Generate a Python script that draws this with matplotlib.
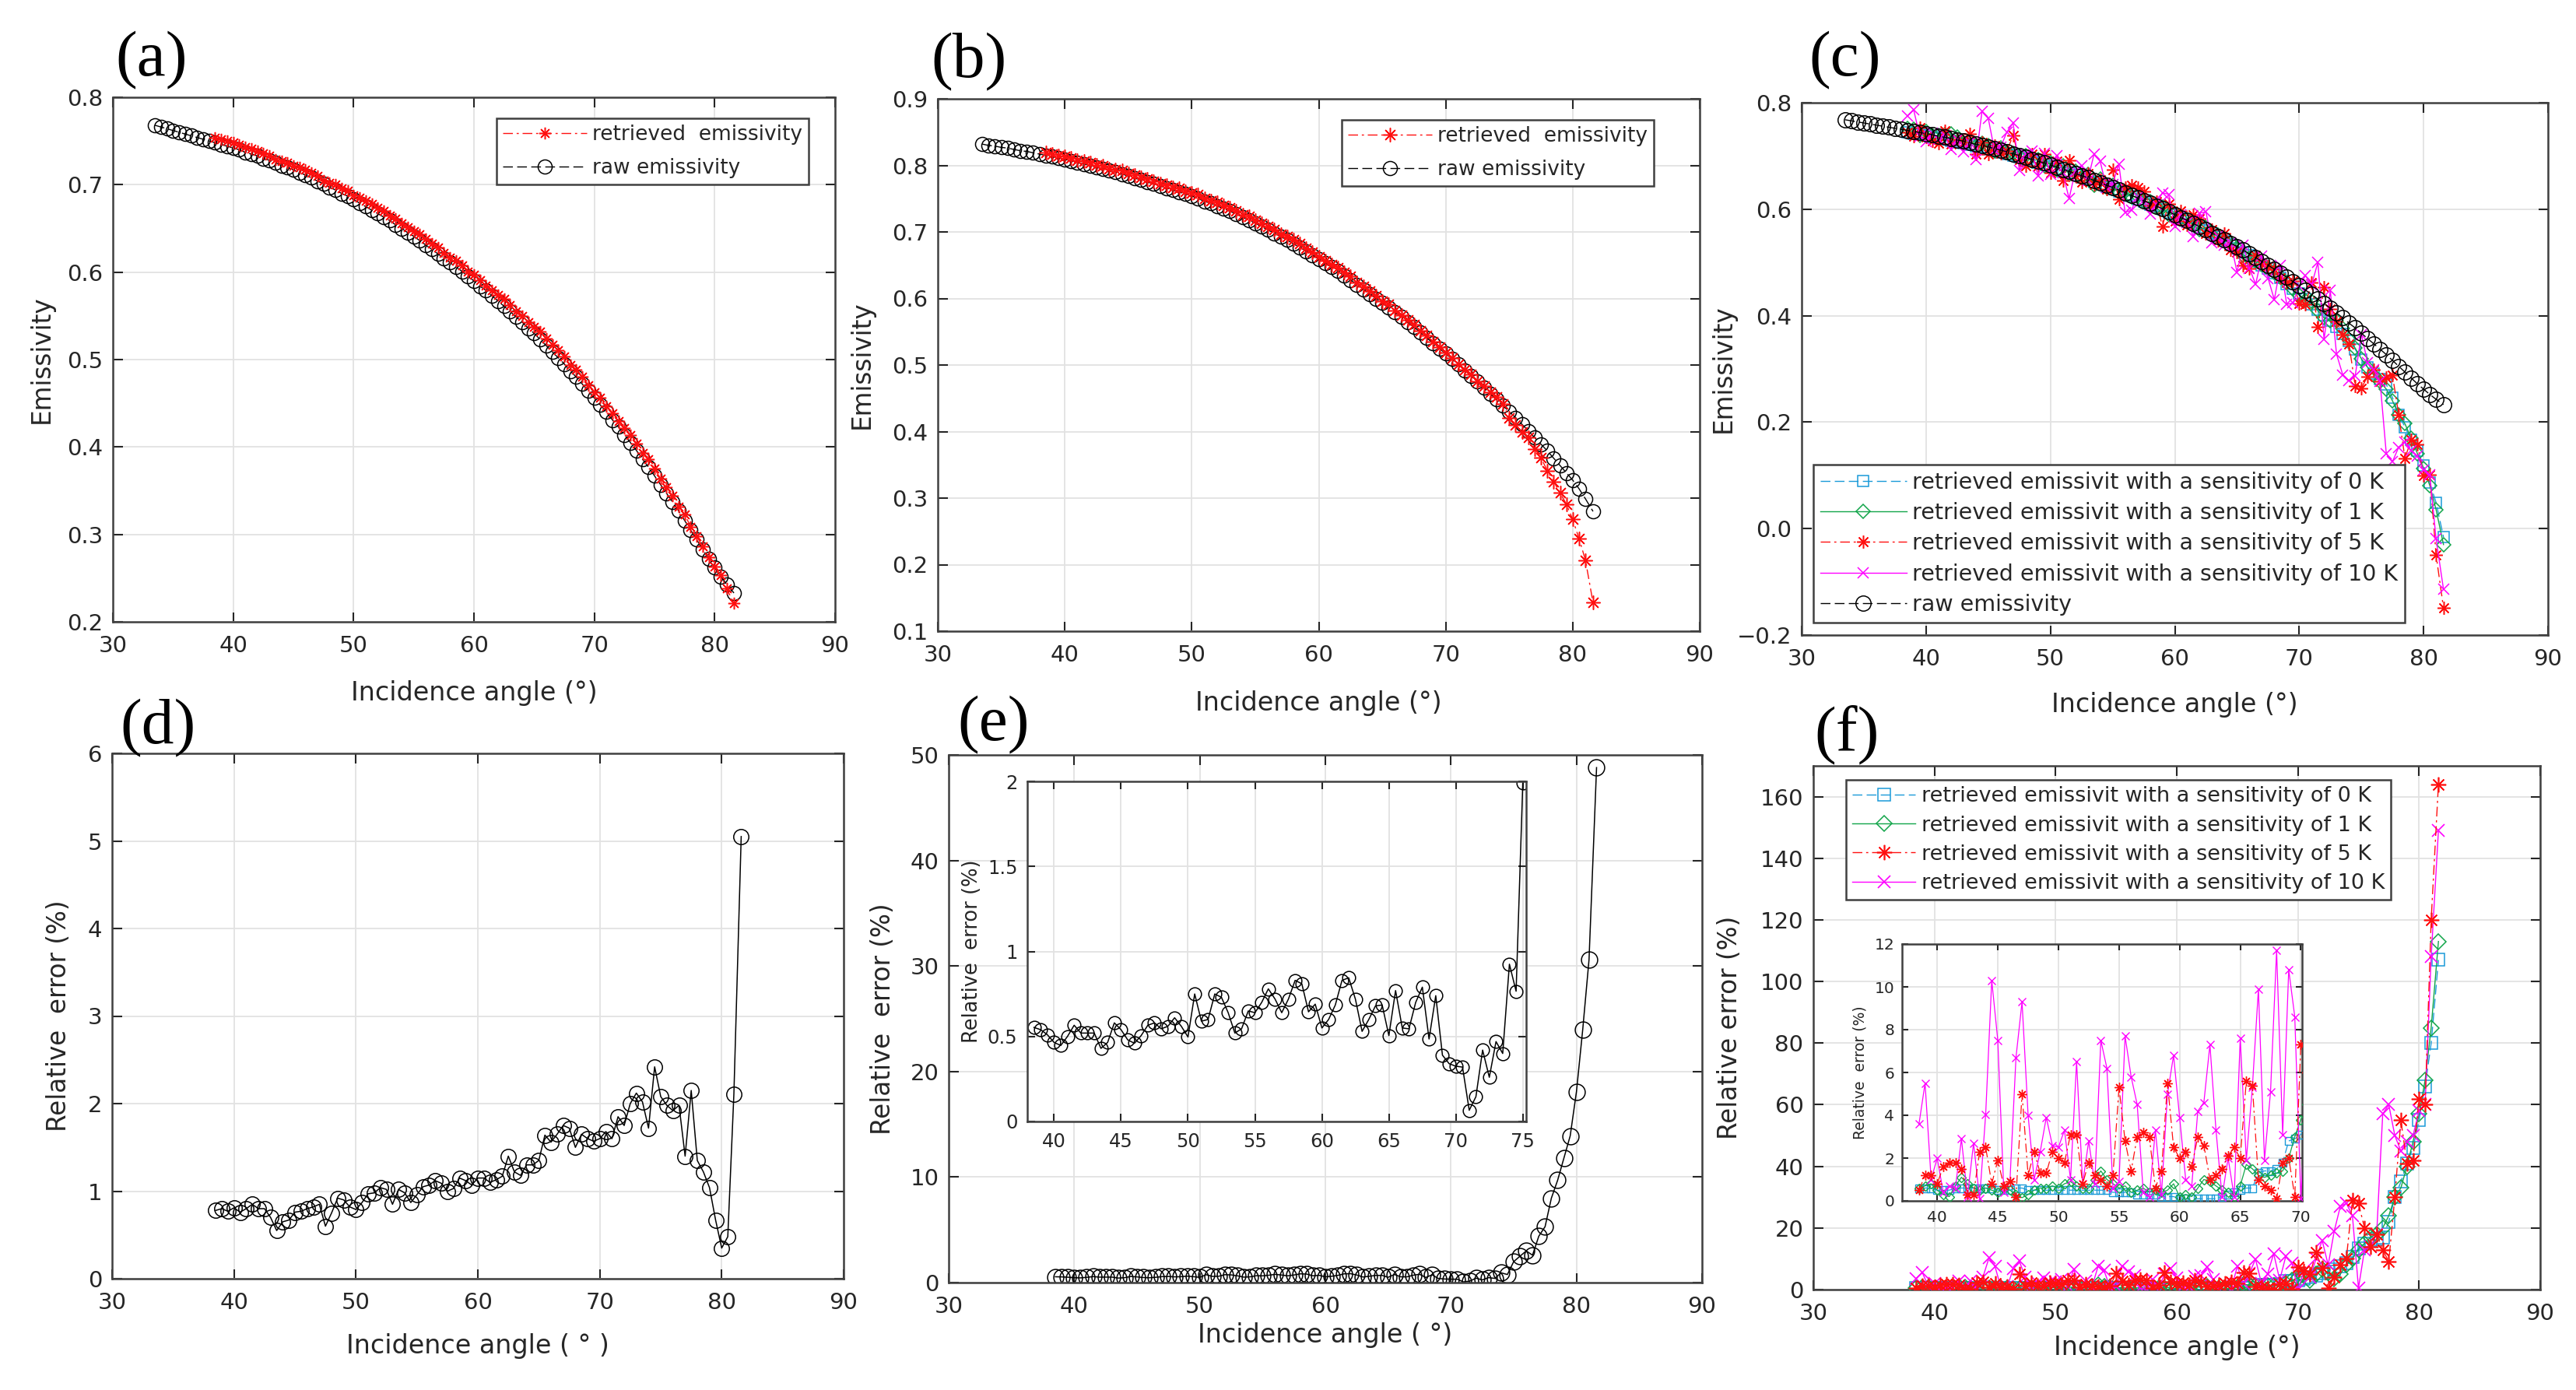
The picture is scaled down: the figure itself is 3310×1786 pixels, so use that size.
import matplotlib
matplotlib.use("Agg")
import matplotlib.pyplot as plt

plt.rcParams['font.family'] = ['DejaVu Sans']

# ---------------------- DATA ------------------------
# incidence angles of the raw emissivity (a, b, c); retrieved series start at 38.5
angle_raw = [33.5, 34.0, 34.5, 35.0, 35.5, 36.0, 36.5, 37.0, 37.5, 38.0,
             38.5, 39.0, 39.5, 40.0, 40.5, 41.0, 41.5, 42.0,
             42.5, 43.0, 43.5, 44.0, 44.5, 45.0, 45.5, 46.0, 46.5, 47.0,
             47.5, 48.0, 48.5, 49.0, 49.5, 50.0, 50.5, 51.0, 51.5, 52.0,
             52.5, 53.0, 53.5, 54.0, 54.5, 55.0, 55.5, 56.0, 56.5, 57.0,
             57.5, 58.0, 58.5, 59.0, 59.5, 60.0, 60.5, 61.0, 61.5, 62.0,
             62.5, 63.0, 63.5, 64.0, 64.5, 65.0, 65.5, 66.0, 66.5, 67.0,
             67.5, 68.0, 68.5, 69.0, 69.5, 70.0, 70.5, 71.0, 71.5, 72.0,
             72.5, 73.0, 73.5, 74.0, 74.5, 75.0, 75.5, 76.0, 76.5, 77.0,
             77.5, 78.0, 78.5, 79.0, 79.5, 80.0, 80.5, 81.0, 81.6]
angle_ret = angle_raw[10:]

# raw emissivity, case (a) -- same raw curve is used in (c)
raw_a = [0.768, 0.766, 0.764, 0.762, 0.760, 0.758, 0.756, 0.754, 0.752, 0.750,
         0.748, 0.746, 0.744, 0.742, 0.740, 0.737, 0.735, 0.733,
         0.730, 0.728, 0.725, 0.722, 0.720, 0.717, 0.714, 0.711, 0.708, 0.704,
         0.701, 0.697, 0.694, 0.690, 0.687, 0.683, 0.679, 0.675, 0.671, 0.667,
         0.663, 0.659, 0.654, 0.650, 0.645, 0.641, 0.636, 0.631, 0.626, 0.621,
         0.616, 0.611, 0.606, 0.601, 0.595, 0.590, 0.584, 0.579, 0.573, 0.567,
         0.561, 0.555, 0.549, 0.543, 0.536, 0.530, 0.523, 0.516, 0.509, 0.502,
         0.495, 0.487, 0.480, 0.472, 0.464, 0.456, 0.448, 0.440, 0.431, 0.423,
         0.414, 0.405, 0.396, 0.386, 0.377, 0.367, 0.357, 0.347, 0.337, 0.327,
         0.316, 0.305, 0.294, 0.283, 0.272, 0.262, 0.252, 0.243, 0.233]

ret_a = [0.754, 0.752, 0.750, 0.748, 0.746, 0.743, 0.741, 0.739,
         0.736, 0.733, 0.729, 0.727, 0.725, 0.722, 0.720, 0.717, 0.714, 0.710,
         0.705, 0.702, 0.700, 0.696, 0.693, 0.688, 0.685, 0.682, 0.678, 0.674,
         0.670, 0.665, 0.661, 0.656, 0.651, 0.647, 0.643, 0.638, 0.633, 0.628,
         0.622, 0.617, 0.613, 0.608, 0.601, 0.597, 0.591, 0.585, 0.579, 0.574,
         0.569, 0.562, 0.555, 0.550, 0.543, 0.537, 0.532, 0.524, 0.517, 0.511,
         0.504, 0.494, 0.488, 0.480, 0.471, 0.463, 0.456, 0.447, 0.439, 0.430,
         0.422, 0.414, 0.404, 0.393, 0.386, 0.375, 0.364, 0.354, 0.344, 0.332,
         0.323, 0.309, 0.298, 0.286, 0.274, 0.263, 0.253, 0.238, 0.221]

raw_b = [0.832, 0.830, 0.829, 0.827, 0.826, 0.824, 0.822, 0.821, 0.819, 0.817,
         0.815, 0.813, 0.811, 0.809, 0.807, 0.804, 0.802, 0.800,
         0.797, 0.795, 0.792, 0.790, 0.787, 0.784, 0.781, 0.778, 0.775, 0.772,
         0.769, 0.766, 0.763, 0.760, 0.757, 0.754, 0.750, 0.746, 0.743, 0.739,
         0.735, 0.731, 0.727, 0.722, 0.718, 0.713, 0.708, 0.703, 0.698, 0.693,
         0.688, 0.682, 0.677, 0.671, 0.665, 0.659, 0.653, 0.647, 0.641, 0.634,
         0.628, 0.621, 0.614, 0.607, 0.600, 0.593, 0.586, 0.579, 0.572, 0.564,
         0.557, 0.549, 0.541, 0.533, 0.525, 0.517, 0.509, 0.501, 0.492, 0.484,
         0.475, 0.466, 0.457, 0.448, 0.439, 0.430, 0.421, 0.411, 0.401, 0.391,
         0.381, 0.371, 0.360, 0.349, 0.338, 0.327, 0.314, 0.299, 0.280]

ret_b = [0.819, 0.817, 0.815, 0.813, 0.811, 0.808, 0.806, 0.804,
         0.801, 0.799, 0.795, 0.794, 0.792, 0.788, 0.785, 0.782, 0.779, 0.776,
         0.773, 0.770, 0.767, 0.765, 0.761, 0.758, 0.756, 0.750, 0.747, 0.745,
         0.740, 0.736, 0.731, 0.726, 0.723, 0.718, 0.713, 0.708, 0.703, 0.697,
         0.693, 0.688, 0.682, 0.675, 0.670, 0.663, 0.657, 0.651, 0.646, 0.639,
         0.633, 0.624, 0.618, 0.611, 0.604, 0.596, 0.591, 0.582, 0.575, 0.568,
         0.561, 0.552, 0.545, 0.535, 0.527, 0.519, 0.511, 0.501, 0.493, 0.486,
         0.476, 0.468, 0.459, 0.452, 0.442, 0.421, 0.410, 0.399, 0.391, 0.374,
         0.361, 0.341, 0.325, 0.308, 0.291, 0.268, 0.239, 0.207, 0.143]

# (c) retrieved emissivity for sensor sensitivities 0, 1, 5, 10 K
ret_0k = [0.744, 0.742, 0.740, 0.738, 0.736, 0.733, 0.731, 0.729,
          0.726, 0.724, 0.721, 0.718, 0.716, 0.713, 0.710, 0.707, 0.704, 0.700,
          0.697, 0.694, 0.690, 0.687, 0.683, 0.680, 0.676, 0.672, 0.668, 0.664,
          0.660, 0.656, 0.651, 0.647, 0.642, 0.638, 0.633, 0.628, 0.624, 0.619,
          0.614, 0.609, 0.605, 0.600, 0.594, 0.589, 0.583, 0.578, 0.572, 0.566,
          0.560, 0.554, 0.548, 0.541, 0.534, 0.527, 0.520, 0.513, 0.502, 0.495,
          0.488, 0.480, 0.471, 0.459, 0.451, 0.442, 0.432, 0.422, 0.411, 0.401,
          0.390, 0.379, 0.366, 0.353, 0.337, 0.317, 0.303, 0.291, 0.281, 0.271,
          0.246, 0.214, 0.191, 0.167, 0.147, 0.118, 0.086, 0.049, -0.016]

ret_1k = [0.752, 0.751, 0.738, 0.746, 0.738, 0.738, 0.740, 0.741,
          0.736, 0.724, 0.729, 0.718, 0.724, 0.720, 0.710, 0.715, 0.706, 0.705,
          0.699, 0.700, 0.690, 0.694, 0.682, 0.687, 0.674, 0.681, 0.666, 0.671,
          0.659, 0.666, 0.645, 0.657, 0.640, 0.645, 0.632, 0.634, 0.623, 0.625,
          0.614, 0.614, 0.604, 0.604, 0.590, 0.591, 0.582, 0.580, 0.570, 0.561,
          0.566, 0.551, 0.552, 0.541, 0.537, 0.526, 0.514, 0.508, 0.503, 0.496,
          0.489, 0.481, 0.473, 0.463, 0.450, 0.439, 0.428, 0.427, 0.409, 0.396,
          0.391, 0.391, 0.376, 0.355, 0.339, 0.319, 0.303, 0.288, 0.276, 0.262,
          0.240, 0.214, 0.197, 0.170, 0.141, 0.113, 0.081, 0.036, -0.030]

ret_5k = [0.744, 0.737, 0.753, 0.736, 0.728, 0.724, 0.748, 0.722,
          0.732, 0.726, 0.742, 0.704, 0.726, 0.703, 0.719, 0.705, 0.709, 0.739,
          0.693, 0.681, 0.703, 0.681, 0.703, 0.669, 0.691, 0.654, 0.692, 0.662,
          0.651, 0.667, 0.647, 0.655, 0.637, 0.675, 0.618, 0.640, 0.645, 0.641,
          0.634, 0.607, 0.614, 0.568, 0.610, 0.578, 0.597, 0.570, 0.590, 0.582,
          0.555, 0.562, 0.541, 0.554, 0.523, 0.519, 0.494, 0.488, 0.514, 0.498,
          0.493, 0.487, 0.471, 0.463, 0.465, 0.423, 0.421, 0.462, 0.379, 0.453,
          0.412, 0.389, 0.364, 0.347, 0.268, 0.264, 0.286, 0.298, 0.276, 0.284,
          0.288, 0.214, 0.132, 0.167, 0.158, 0.100, 0.101, -0.049, -0.149]

ret_10k = [0.775, 0.787, 0.737, 0.727, 0.743, 0.732, 0.739, 0.712,
           0.731, 0.708, 0.726, 0.693, 0.784, 0.771, 0.711, 0.717, 0.745, 0.762,
           0.673, 0.704, 0.710, 0.663, 0.705, 0.666, 0.701, 0.668, 0.620, 0.672,
           0.682, 0.654, 0.703, 0.690, 0.641, 0.647, 0.685, 0.594, 0.598, 0.623,
           0.617, 0.591, 0.608, 0.631, 0.628, 0.567, 0.590, 0.575, 0.549, 0.593,
           0.595, 0.537, 0.550, 0.532, 0.537, 0.482, 0.533, 0.489, 0.459, 0.512,
           0.470, 0.430, 0.495, 0.421, 0.424, 0.456, 0.475, 0.458, 0.500, 0.355,
           0.447, 0.328, 0.289, 0.278, 0.287, 0.365, 0.311, 0.298, 0.276, 0.141,
           0.126, 0.153, 0.162, 0.147, 0.136, 0.110, 0.101, -0.019, -0.114]

# (d) relative error of (a), %
err_d = [0.78, 0.80, 0.77, 0.81, 0.76, 0.80, 0.85, 0.80,
         0.80, 0.70, 0.55, 0.65, 0.67, 0.76, 0.77, 0.80, 0.82, 0.85,
         0.60, 0.75, 0.92, 0.90, 0.82, 0.79, 0.87, 0.97, 0.98, 1.04,
         1.02, 0.85, 1.02, 0.98, 0.87, 0.96, 1.05, 1.07, 1.12, 1.09,
         1.00, 1.03, 1.15, 1.12, 1.07, 1.15, 1.15, 1.10, 1.13, 1.17,
         1.40, 1.22, 1.18, 1.30, 1.30, 1.35, 1.64, 1.56, 1.65, 1.75,
         1.72, 1.50, 1.65, 1.60, 1.57, 1.60, 1.68, 1.60, 1.85, 1.75,
         2.00, 2.12, 2.02, 1.72, 2.42, 2.08, 1.98, 1.92, 1.98, 1.40,
         2.15, 1.35, 1.22, 1.04, 0.67, 0.35, 0.48, 2.11, 5.05]

# (e) relative error of (b), %
err_e = [0.553, 0.54, 0.51, 0.465, 0.447, 0.50, 0.566, 0.52,
         0.52, 0.52, 0.43, 0.465, 0.58, 0.54, 0.48, 0.46, 0.505, 0.566,
         0.58, 0.545, 0.56, 0.61, 0.56, 0.497, 0.75, 0.59, 0.60, 0.75,
         0.73, 0.64, 0.52, 0.545, 0.65, 0.64, 0.70, 0.78, 0.72, 0.64,
         0.72, 0.83, 0.81, 0.645, 0.69, 0.55, 0.60, 0.685, 0.83, 0.845,
         0.72, 0.53, 0.60, 0.68, 0.685, 0.505, 0.77, 0.55, 0.545, 0.70,
         0.79, 0.485, 0.74, 0.39, 0.34, 0.325, 0.32, 0.066, 0.146, 0.42,
         0.26, 0.47, 0.40, 0.925, 0.766, 1.99, 2.5, 3.0, 2.6, 4.4,
         5.3, 8.0, 9.7, 11.8, 13.9, 18.1, 24.0, 30.6, 48.8]

# (f) relative error of (c), %
err_0k = [0.6, 0.6, 0.6, 0.5, 0.5, 0.5, 0.6, 0.6,
          0.6, 0.6, 0.6, 0.6, 0.6, 0.5, 0.5, 0.5, 0.6, 0.6,
          0.5, 0.5, 0.5, 0.5, 0.5, 0.5, 0.5, 0.5, 0.5, 0.5,
          0.5, 0.5, 0.5, 0.5, 0.4, 0.4, 0.4, 0.4, 0.3, 0.3,
          0.3, 0.3, 0.2, 0.2, 0.2, 0.1, 0.1, 0.1, 0.1, 0.1,
          0.1, 0.1, 0.2, 0.3, 0.4, 0.5, 0.6, 0.6, 1.3, 1.4,
          1.4, 1.5, 1.8, 2.8, 2.9, 3.1, 3.5, 4.0, 4.6, 5.2,
          5.8, 6.5, 7.5, 8.5, 10.5, 13.5, 15.0, 16.0, 16.5, 17.0,
          22.0, 30.0, 35.0, 41.0, 46.0, 55.0, 66.0, 80.0, 107.0]

err_1k = [0.6, 0.7, 0.8, 0.5, 0.3, 0.2, 0.7, 1.1,
          0.8, 0.6, 0.5, 0.6, 0.5, 0.4, 0.6, 0.5, 0.3, 0.15,
          0.3, 0.5, 0.6, 0.6, 0.7, 0.6, 0.8, 0.9, 0.7, 0.6,
          0.6, 1.0, 1.4, 1.0, 0.8, 0.6, 0.7, 0.4, 0.5, 0.6,
          0.4, 0.5, 0.4, 0.5, 0.8, 0.2, 0.3, 0.2, 0.6, 1.0,
          0.9, 0.7, 0.5, 0.4, 0.2, 0.7, 1.7, 1.5, 1.2, 1.1,
          1.2, 1.3, 1.4, 2.0, 3.0, 3.8, 4.5, 3.0, 5.0, 6.5,
          5.5, 3.5, 5.0, 8.0, 10.0, 13.0, 15.0, 17.0, 18.0, 20.0,
          24.0, 30.0, 33.0, 40.0, 48.0, 57.0, 68.0, 85.0, 113.0]

err_5k = [0.5, 1.2, 1.2, 0.8, 1.6, 1.8, 1.8, 1.5,
          0.3, 0.3, 2.3, 2.5, 0.8, 1.9, 0.7, 0.9, 0.2, 5.0,
          1.2, 2.3, 1.3, 1.3, 2.3, 2.0, 1.8, 3.1, 3.1, 0.8,
          1.8, 1.2, 1.0, 0.7, 1.2, 5.3, 2.8, 1.4, 3.0, 3.2,
          3.0, 0.6, 1.4, 5.5, 2.5, 2.0, 2.3, 1.6, 3.0, 2.6,
          1.0, 1.2, 1.5, 2.1, 2.5, 2.0, 5.6, 5.4, 1.0, 0.7,
          0.5, 0.1, 1.8, 2.0, 0.2, 7.3, 6.0, 5.0, 12.0, 7.0,
          0.5, 4.0, 8.0, 10.0, 29.0, 28.0, 20.0, 14.0, 18.0, 13.0,
          9.0, 30.0, 55.0, 41.0, 42.0, 62.0, 60.0, 120.0, 164.0]

err_10k = [3.6, 5.5, 1.0, 2.0, 0.4, 0.7, 0.6, 2.9,
           0.2, 2.7, 0.1, 4.05, 10.3, 7.5, 0.4, 0.9, 6.7, 9.3,
           4.0, 1.0, 2.3, 3.9, 2.6, 2.5, 3.3, 1.0, 6.5, 0.8,
           2.8, 0.8, 7.5, 6.2, 0.6, 0.9, 7.7, 5.8, 4.5, 0.4,
           0.2, 3.3, 0.3, 5.0, 6.8, 3.9, 1.0, 0.7, 4.2, 4.6,
           7.3, 3.3, 0.2, 2.0, 0.2, 7.6, 1.9, 5.3, 9.9, 1.9,
           5.1, 11.7, 3.1, 10.8, 8.6, 0.1, 6.0, 4.0, 10.0, 16.0,
           8.0, 19.0, 27.0, 28.0, 24.0, 0.5, 13.0, 14.0, 18.0, 57.0,
           60.0, 50.0, 45.0, 48.0, 50.0, 58.0, 60.0, 108.0, 149.0]

sens_labels = ['retrieved emissivit with a sensitivity of 0 K',
               'retrieved emissivit with a sensitivity of 1 K',
               'retrieved emissivit with a sensitivity of 5 K',
               'retrieved emissivit with a sensitivity of 10 K']
inset_e_yticklabels = ['0', '0.5', '1', '1.5', '2']

# ---------------------- STYLE ------------------------
W, H = 3310, 1786
fig = plt.figure(figsize=(W / 100, H / 100), dpi=100)

C_BLUE = '#1a9ad8'
C_GREEN = '#12a54a'
C_RED = '#ff1010'
C_MAG = '#ff00ff'
SPINE = '#404040'
TXT = '#262626'
ASTER = (8, 2, 0)          # MATLAB-like '*' marker
DASH = (0, (9, 4))
DASHDOT = (0, (9, 3.5, 2, 3.5))


def add_ax(left, right, top, bottom):
    return fig.add_axes([left / W, 1 - bottom / H, (right - left) / W, (bottom - top) / H])


def style(ax, xlim, ylim, xticks, yticks, fs=21, tl=9):
    ax.set_xlim(xlim)
    ax.set_ylim(ylim)
    ax.set_xticks(xticks)
    ax.set_yticks(yticks)
    ax.grid(True, color='#e2e2e2', linewidth=1.3)
    ax.set_axisbelow(True)
    ax.tick_params(direction='in', top=True, right=True, length=tl, width=1.5,
                   labelsize=fs, colors=TXT, labelcolor=TXT)
    ax.tick_params(axis='x', pad=12)
    ax.tick_params(axis='y', pad=9)
    for s in ax.spines.values():
        s.set_linewidth(1.8)
        s.set_color(SPINE)


def labels(ax, rect, xlabel, xlabel_y, ylabel, ylabel_x, fsx=24, fsy=23.5):
    left, right, top, bottom = rect
    ax.set_xlabel(xlabel, fontsize=fsx, color=TXT, va='center')
    ax.set_ylabel(ylabel, fontsize=fsy, color=TXT, va='center')
    ax.xaxis.set_label_coords(0.5, -(xlabel_y - bottom) / (bottom - top))
    ax.yaxis.set_label_coords((ylabel_x - left) / (right - left), 0.5)


def legend(ax, handles, texts, x0, y0, fs=19, ls=0.65, hl=4.1):
    leg = ax.legend(handles, texts, loc='upper left',
                    bbox_to_anchor=(x0 / W, 1 - y0 / H), bbox_transform=fig.transFigure,
                    fontsize=fs, frameon=True, fancybox=False, framealpha=1,
                    edgecolor=SPINE, borderpad=0.3, borderaxespad=0,
                    handlelength=hl, handletextpad=0.27, labelspacing=ls)
    leg.get_frame().set_linewidth(1.8)
    for t in leg.get_texts():
        t.set_color(TXT)
    return leg


def panel_tag(txt, x, y):
    fig.text(x / W, 1 - y / H, txt, fontsize=60, family='Liberation Serif',
             ha='center', va='center', color='black')


xt = [30, 40, 50, 60, 70, 80, 90]

# ---------------------- (a) ------------------------
rect_a = (145, 1073, 125, 799)
ax = add_ax(*rect_a)
h_raw, = ax.plot(angle_raw, raw_a, linestyle=DASH, color='black', lw=1.0, marker='o',
                 ms=13, mfc='none', mec='black', mew=1.1, zorder=2)
h_ret, = ax.plot(angle_ret, ret_a, linestyle=DASHDOT, color=C_RED, lw=1.0, marker=ASTER,
                 ms=11, mec=C_RED, mew=1.1, zorder=3)
style(ax, (30, 90), (0.2, 0.8), xt, [0.2, 0.3, 0.4, 0.5, 0.6, 0.7, 0.8])
labels(ax, rect_a, 'Incidence angle (°)', 890, 'Emissivity', 53)
legend(ax, [h_ret, h_raw], ['retrieved  emissivity', 'raw emissivity'], 638, 152)
panel_tag('(a)', 195, 78)

# ---------------------- (b) ------------------------
rect_b = (1205, 2184, 127, 811)
ax = add_ax(*rect_b)
h_raw, = ax.plot(angle_raw, raw_b, linestyle=DASH, color='black', lw=1.0, marker='o',
                 ms=13, mfc='none', mec='black', mew=1.1, zorder=2)
h_ret, = ax.plot(angle_ret, ret_b, linestyle=DASHDOT, color=C_RED, lw=1.0, marker=ASTER,
                 ms=13, mec=C_RED, mew=1.1, zorder=3)
style(ax, (30, 90), (0.1, 0.9), xt, [0.1, 0.2, 0.3, 0.4, 0.5, 0.6, 0.7, 0.8, 0.9])
labels(ax, rect_b, 'Incidence angle (°)', 903, 'Emissivity', 1107)
legend(ax, [h_ret, h_raw], ['retrieved  emissivity', 'raw emissivity'], 1724, 154)
panel_tag('(b)', 1245, 80)

# ---------------------- (c) ------------------------
rect_c = (2315, 3274, 132, 816)
ax = add_ax(*rect_c)
h0, = ax.plot(angle_ret, ret_0k, linestyle=DASH, color=C_BLUE, lw=1.0, marker='s', ms=10,
              mfc='none', mec=C_BLUE, mew=1.1, zorder=3)
h1, = ax.plot(angle_ret, ret_1k, '-', color=C_GREEN, lw=1.0, marker='D', ms=9,
              mfc='none', mec=C_GREEN, mew=1.1, zorder=3)
h5, = ax.plot(angle_ret, ret_5k, linestyle=DASHDOT, color=C_RED, lw=1.0, marker=ASTER, ms=12,
              mec=C_RED, mew=1.1, zorder=3)
h10, = ax.plot(angle_ret, ret_10k, '-', color=C_MAG, lw=1.0, marker='x', ms=10,
               mec=C_MAG, mew=1.1, zorder=3)
hr, = ax.plot(angle_raw, raw_a, linestyle=DASH, color='black', lw=1.0, marker='o', ms=14,
              mfc='none', mec='black', mew=1.1, zorder=4)
style(ax, (30, 90), (-0.2, 0.8), xt, [-0.2, 0, 0.2, 0.4, 0.6, 0.8])
labels(ax, rect_c, 'Incidence angle (°)', 906, 'Emissivity', 2214)
legend(ax, [h0, h1, h5, h10, hr], sens_labels + ['raw emissivity'], 2330, 597,
       fs=20.5, ls=0.4, hl=3.9)
panel_tag('(c)', 2371, 78)

# ---------------------- (d) ------------------------
rect_d = (144, 1084, 968, 1643)
ax = add_ax(*rect_d)
ax.plot(angle_ret, err_d, '-', color='black', lw=1.1, marker='o', ms=14,
        mfc='none', mec='black', mew=1.1)
style(ax, (30, 90), (0, 6), xt, [0, 1, 2, 3, 4, 5, 6])
labels(ax, rect_d, 'Incidence angle ( ° )', 1730, 'Relative  error (%)', 76)
panel_tag('(d)', 203, 936)

# ---------------------- (e) ------------------------
rect_e = (1219, 2187, 970, 1648)
ax = add_ax(*rect_e)
ax.plot(angle_ret, err_e, '-', color='black', lw=1.1, marker='o', ms=15,
        mfc='none', mec='black', mew=1.1)
style(ax, (30, 90), (0, 50), xt, [0, 10, 20, 30, 40, 50])
labels(ax, rect_e, 'Incidence angle ( °)', 1715, 'Relative  error (%)', 1134)
panel_tag('(e)', 1277, 932)

rect_ei = (1320, 1961, 1004, 1441)
axi = add_ax(*rect_ei)
axi.set_facecolor('white')
axi.plot(angle_ret, err_e, '-', color='black', lw=1.1, marker='o', ms=12,
         mfc='none', mec='black', mew=1.1)
style(axi, (38.0, 75.25), (0, 2), [40, 45, 50, 55, 60, 65, 70, 75],
      [0, 0.5, 1, 1.5, 2], fs=17.5, tl=7)
axi.set_yticklabels(inset_e_yticklabels)
axi.tick_params(axis='x', pad=10)
axi.set_ylabel('Relative  error (%)', fontsize=18.5, color=TXT, va='center')
axi.yaxis.set_label_coords((1249 - 1320) / (1961 - 1320), 0.5)

# ---------------------- (f) ------------------------
rect_f = (2330, 3264, 984, 1657)
ax = add_ax(*rect_f)
g0, = ax.plot(angle_ret, err_0k, linestyle=DASH, color=C_BLUE, lw=1.0, marker='s', ms=11,
              mfc='none', mec=C_BLUE, mew=1.1, zorder=3)
g1, = ax.plot(angle_ret, err_1k, '-', color=C_GREEN, lw=1.0, marker='D', ms=10,
              mfc='none', mec=C_GREEN, mew=1.1, zorder=3)
g5, = ax.plot(angle_ret, err_5k, linestyle=DASHDOT, color=C_RED, lw=1.0, marker=ASTER, ms=14,
              mec=C_RED, mew=1.2, zorder=4)
g10, = ax.plot(angle_ret, err_10k, '-', color=C_MAG, lw=1.0, marker='x', ms=12,
               mec=C_MAG, mew=1.2, zorder=3)
style(ax, (30, 90), (0, 170), xt, [0, 20, 40, 60, 80, 100, 120, 140, 160])
labels(ax, rect_f, 'Incidence angle (°)', 1732, 'Relative error (%)', 2223)
legend(ax, [g0, g1, g5, g10], sens_labels, 2372, 1002, fs=19.5, ls=0.42, hl=3.0)
panel_tag('(f)', 2373, 944)

rect_fi = (2444, 2958, 1213, 1543)
axi = add_ax(*rect_fi)
axi.set_facecolor('white')
axi.plot(angle_ret, err_0k, linestyle=DASH, color=C_BLUE, lw=0.9, marker='s', ms=7,
         mfc='none', mec=C_BLUE, mew=1.0, zorder=3)
axi.plot(angle_ret, err_1k, '-', color=C_GREEN, lw=0.9, marker='D', ms=6.5,
         mfc='none', mec=C_GREEN, mew=1.0, zorder=3)
axi.plot(angle_ret, err_5k, linestyle=DASHDOT, color=C_RED, lw=0.9, marker=ASTER, ms=9,
         mec=C_RED, mew=1.0, zorder=4)
axi.plot(angle_ret, err_10k, '-', color=C_MAG, lw=0.9, marker='x', ms=7,
         mec=C_MAG, mew=1.0, zorder=3)
style(axi, (37.1, 70.1), (0, 12), [40, 45, 50, 55, 60, 65, 70],
      [0, 2, 4, 6, 8, 10, 12], fs=14.5, tl=6)
axi.tick_params(axis='x', pad=9)
axi.tick_params(axis='y', pad=7)
axi.set_ylabel('Relative  error (%)', fontsize=13.5, color=TXT, va='center')
axi.yaxis.set_label_coords((2390 - 2444) / (2958 - 2444), 0.5)

fig.savefig('out.png', dpi=100, facecolor='white')
